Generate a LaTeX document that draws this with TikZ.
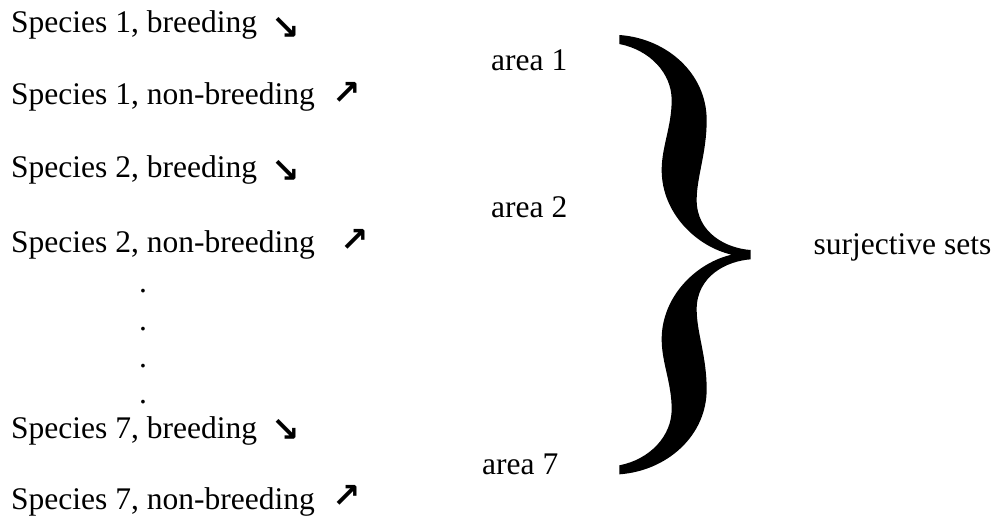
\documentclass[tikz,border=0pt]{standalone}
\usepackage{fontspec}
\setmainfont{Liberation Serif}
\newfontfamily\arrowfont{DejaVu Sans}
\begin{document}
\begin{tikzpicture}[x=1pt,y=-1pt,
  lbl/.style={anchor=base west, inner sep=0pt, font=\fontsize{31.5}{36}\selectfont},
  arr/.style={anchor=center, inner sep=0pt, font=\arrowfont\bfseries\fontsize{34}{36}\selectfont},
  dotnode/.style={anchor=center, inner sep=0pt, font=\fontsize{31.5}{36}\selectfont}]
\useasboundingbox (0,0) rectangle (1000,523);
% species lines
\node[lbl] (s1b) at (11,32) {Species 1, breeding};
\node[lbl] (s1n) at (11,104) {Species 1, non-breeding};
\node[lbl] (s2b) at (11,177) {Species 2, breeding};
\node[lbl] (s2n) at (11,252) {Species 2, non-breeding};
\node[lbl] (s7b) at (11,438) {Species 7, breeding};
\node[lbl] (s7n) at (11,509) {Species 7, non-breeding};
% arrows
\node[arr] (a1) at (286,28) {↘};
\node[arr] (a2) at (347,93) {↗};
\node[arr] (a3) at (286,171) {↘};
\node[arr] (a4) at (355,240) {↗};
\node[arr] (a5) at (286,430) {↘};
\node[arr] (a6) at (347,496) {↗};
% vertical dots
\node[dotnode] (d1) at (143,291) {.};
\node[dotnode] (d2) at (143,329) {.};
\node[dotnode] (d3) at (143,366) {.};
\node[dotnode] (d4) at (143,402) {.};
% areas
\node[lbl] (ar1) at (491,70) {area 1};
\node[lbl] (ar2) at (491,217) {area 2};
\node[lbl] (ar7) at (482,474) {area 7};
% result
\node[lbl] (sur) at (813.5,254) {surjective sets};
% brace
\begin{scope}[shift={(580,20)}, x=0.33333pt, y=-0.33333pt]
\fill (118,45) .. controls (260,55) and (380,160) .. (380,300)
 .. controls (380,400) and (350,470) .. (350,540)
 .. controls (350,640) and (440,685) .. (512,690)
 -- (512,718)
 .. controls (440,723) and (350,768) .. (350,868)
 .. controls (350,938) and (380,1008) .. (380,1108)
 .. controls (380,1248) and (260,1353) .. (118,1363)
 -- (118,1336)
 .. controls (210,1318) and (275,1248) .. (275,1168)
 .. controls (275,1088) and (245,1028) .. (245,958)
 .. controls (245,828) and (350,728) .. (455,704)
 .. controls (350,680) and (245,580) .. (245,450)
 .. controls (245,380) and (275,320) .. (275,240)
 .. controls (275,160) and (210,90) .. (118,72) -- cycle;
\end{scope}
\end{tikzpicture}
\end{document}
